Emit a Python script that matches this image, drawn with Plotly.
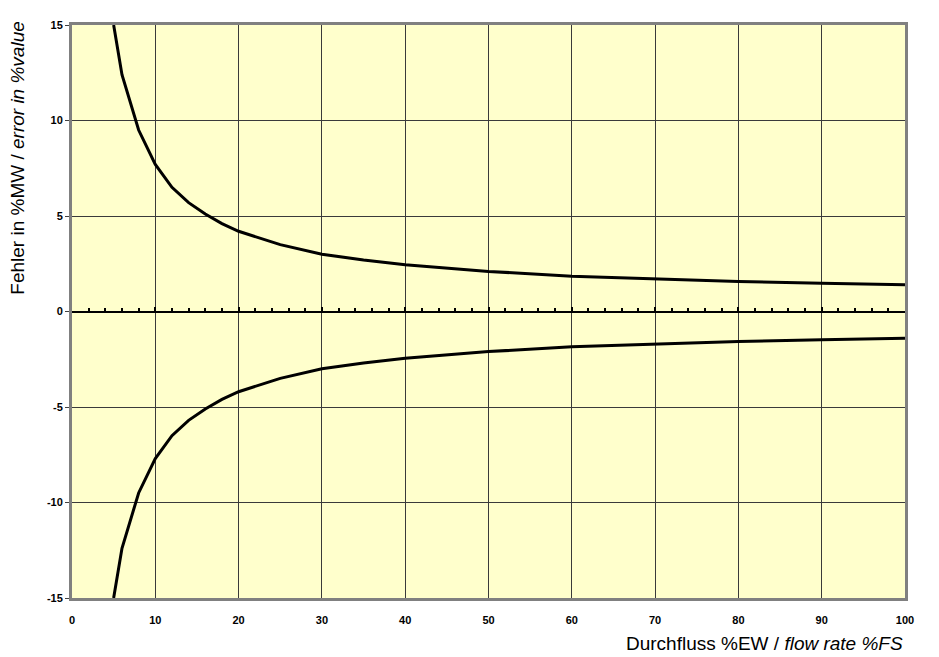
import plotly.graph_objects as go

# flow rate in % of full scale
flow = [5, 6, 8, 10, 12, 14, 16, 18, 20, 25, 30, 35, 40, 50, 60, 70, 80, 90, 100]
# upper error limit in % of value
err_upper = [15.0, 12.4, 9.5, 7.7, 6.5, 5.7, 5.1, 4.6, 4.2, 3.5, 3.0, 2.7, 2.45, 2.1, 1.85, 1.7, 1.57, 1.48, 1.4]
# lower error limit in % of value
err_lower = [-15.0, -12.4, -9.5, -7.7, -6.5, -5.7, -5.1, -4.6, -4.2, -3.5, -3.0, -2.7, -2.45, -2.1, -1.85, -1.7, -1.57, -1.48, -1.4]

x_ticks = [0, 10, 20, 30, 40, 50, 60, 70, 80, 90, 100]
y_ticks = [-15, -10, -5, 0, 5, 10, 15]
y_labels = ["-15", "-10", "-5", "0", "5", "10", "15"]

tick_font = dict(family="Liberation Sans, Arial, sans-serif", size=11, color="black", weight="bold")
title_font = dict(family="Liberation Sans, Arial, sans-serif", size=19, color="black")

fig = go.Figure()
fig.add_trace(go.Scatter(x=flow, y=err_upper, mode="lines", xaxis="x2",
                         line=dict(color="black", width=3), hoverinfo="x+y"))
fig.add_trace(go.Scatter(x=flow, y=err_lower, mode="lines",
                         line=dict(color="black", width=3), hoverinfo="x+y"))

# the page body has an 8px margin, so the figure is shrunk to fit the window
fig.update_layout(
    width=931, height=649,
    margin=dict(l=64, r=34, t=11, b=59),
    paper_bgcolor="white",
    plot_bgcolor="#FFFFCC",
    showlegend=False,
    xaxis=dict(
        range=[0, 100], tickvals=x_ticks, tickfont=tick_font,
        showgrid=True, gridcolor="#3a3a3a", gridwidth=1,
        showline=True, linecolor="#808080", linewidth=3, mirror=True,
        zeroline=False, ticks="", ticklabelstandoff=10,
    ),
    xaxis2=dict(
        range=[0, 100], overlaying="x", anchor="free", position=0.5, side="bottom",
        showticklabels=False, showgrid=False, zeroline=False,
        showline=True, linecolor="black", linewidth=2,
        tickvals=x_ticks, ticks="inside", ticklen=4, tickwidth=2, tickcolor="black",
        minor=dict(dtick=2, ticks="inside", ticklen=3, tickwidth=1.5, tickcolor="black"),
    ),
    yaxis=dict(
        range=[-15, 15], tickvals=y_ticks, ticktext=y_labels, tickfont=tick_font,
        showgrid=True, gridcolor="#3a3a3a", gridwidth=1,
        showline=True, linecolor="#808080", linewidth=3, mirror=True,
        zeroline=False, ticks="outside", ticklen=4, tickcolor="#404040",
    ),
    annotations=[
        dict(text="Durchfluss %EW / <i>flow rate %FS</i>", xref="paper", yref="paper",
             x=1, y=0, xanchor="right", yanchor="top", yshift=-33,
             showarrow=False, font=title_font),
        dict(text="Fehler in %MW / <i>error in %value</i>", xref="paper", yref="y",
             x=0, y=8.0, xanchor="center", yanchor="middle", xshift=-54, textangle=-90,
             showarrow=False, font=title_font),
    ],
)

fig.write_html("out.html")
